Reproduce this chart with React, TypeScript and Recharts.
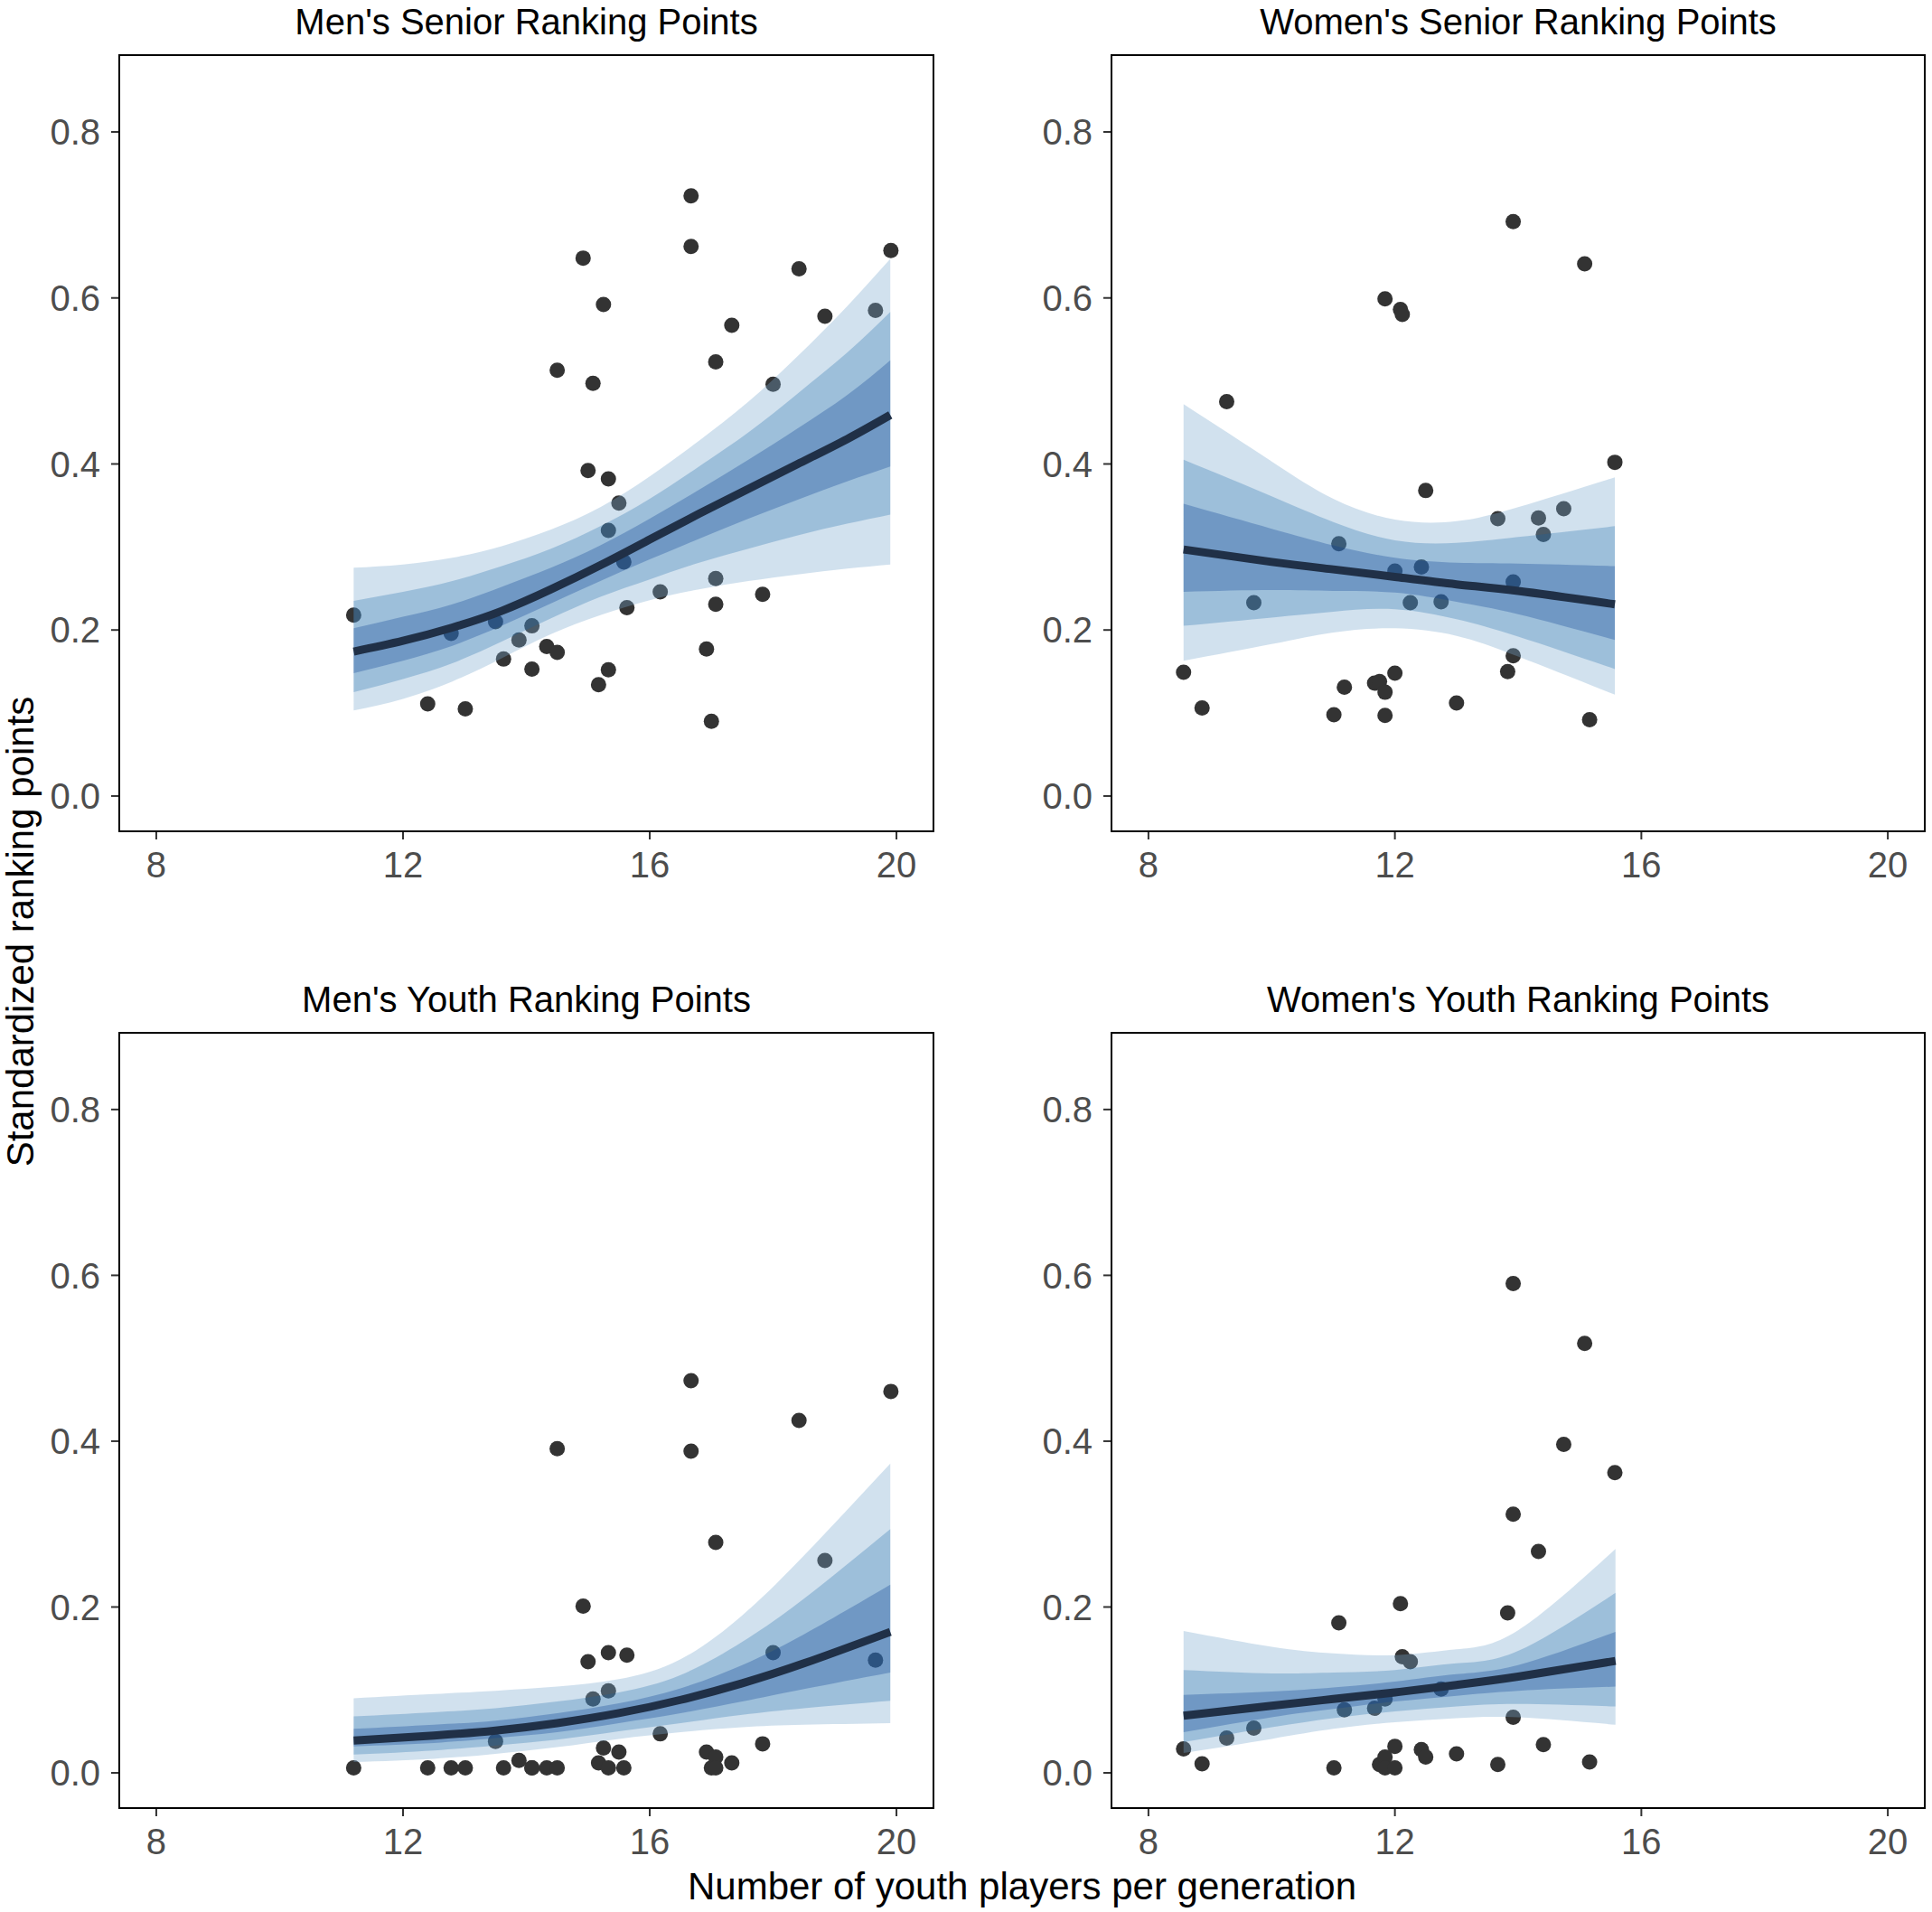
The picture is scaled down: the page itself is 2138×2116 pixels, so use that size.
import React from 'react';
import {
  ComposedChart, Area, Line, Scatter, XAxis, YAxis, ReferenceArea,
} from 'recharts';

// shared scales
const X_DOMAIN = [7.4, 20.6];
const Y_DOMAIN = [-0.0425, 0.8925];
const X_TICKS = [8, 12, 16, 20];
const Y_TICKS = [0, 0.2, 0.4, 0.6, 0.8];

// observed points, men (same countries in both men's panels)
const menX = [11.2, 12.4, 12.78, 13.01, 13.5, 13.63, 13.88, 14.09, 14.09, 14.33, 14.5, 14.5, 14.92, 15.0, 15.08, 15.17, 15.25, 15.33, 15.33, 15.33, 15.5, 15.58, 15.63, 16.17, 16.67, 16.67, 16.92, 17.0, 17.07, 17.07, 17.07, 17.33, 17.83, 18.0, 18.42, 18.84, 19.66, 19.91];
const menSeniorY = [0.218, 0.111, 0.196, 0.105, 0.21, 0.165, 0.188, 0.205, 0.153, 0.18, 0.513, 0.173, 0.648, 0.392, 0.497, 0.134, 0.592, 0.382, 0.32, 0.152, 0.353, 0.282, 0.227, 0.246, 0.723, 0.662, 0.177, 0.09, 0.523, 0.262, 0.231, 0.567, 0.243, 0.496, 0.635, 0.578, 0.585, 0.657];
const menYouthY = [0.006, 0.006, 0.006, 0.006, 0.038, 0.006, 0.015, 0.006, 0.006, 0.006, 0.391, 0.006, 0.201, 0.134, 0.089, 0.012, 0.03, 0.145, 0.099, 0.006, 0.025, 0.006, 0.142, 0.047, 0.473, 0.388, 0.025, 0.006, 0.278, 0.019, 0.006, 0.012, 0.035, 0.145, 0.425, 0.256, 0.136, 0.46];

// observed points, women
const womenX = [8.57, 8.87, 9.27, 9.71, 11.01, 11.09, 11.18, 11.67, 11.75, 11.84, 11.84, 11.84, 12.0, 12.0, 12.09, 12.12, 12.25, 12.43, 12.5, 12.75, 13.0, 13.67, 13.83, 13.92, 13.92, 13.92, 14.33, 14.41, 14.74, 15.08, 15.16, 15.57];
const womenSeniorY = [0.149, 0.106, 0.475, 0.233, 0.098, 0.304, 0.131, 0.136, 0.138, 0.125, 0.097, 0.599, 0.271, 0.148, 0.586, 0.58, 0.233, 0.276, 0.368, 0.234, 0.112, 0.334, 0.15, 0.258, 0.169, 0.692, 0.335, 0.315, 0.346, 0.641, 0.092, 0.402];
const womenYouthY = [0.029, 0.011, 0.042, 0.054, 0.006, 0.181, 0.076, 0.078, 0.01, 0.019, 0.006, 0.089, 0.032, 0.006, 0.204, 0.14, 0.134, 0.028, 0.019, 0.101, 0.023, 0.01, 0.193, 0.067, 0.312, 0.59, 0.267, 0.034, 0.396, 0.518, 0.013, 0.362];

// fitted curve + 50/80/95% intervals, men's senior
const msFitX = [11.2, 12.0, 12.8, 13.6, 14.4, 15.2, 16.0, 16.8, 17.6, 18.4, 19.2, 19.9];
const msMean = [0.174, 0.187, 0.203, 0.223, 0.249, 0.278, 0.309, 0.34, 0.37, 0.4, 0.43, 0.459];
const msLo95 = [0.103, 0.117, 0.138, 0.166, 0.195, 0.218, 0.236, 0.249, 0.259, 0.267, 0.274, 0.279];
const msHi95 = [0.275, 0.279, 0.287, 0.301, 0.321, 0.348, 0.385, 0.428, 0.475, 0.53, 0.59, 0.647];
const msLo80 = [0.125, 0.141, 0.16, 0.186, 0.214, 0.24, 0.261, 0.281, 0.298, 0.314, 0.328, 0.339];
const msHi80 = [0.235, 0.246, 0.259, 0.277, 0.298, 0.325, 0.358, 0.397, 0.438, 0.485, 0.534, 0.583];
const msLo50 = [0.148, 0.163, 0.181, 0.205, 0.232, 0.259, 0.285, 0.31, 0.334, 0.357, 0.379, 0.397];
const msHi50 = [0.202, 0.216, 0.231, 0.252, 0.275, 0.302, 0.334, 0.369, 0.405, 0.443, 0.483, 0.525];

// men's youth
const myFitX = [11.2, 12.5, 13.5, 14.5, 15.5, 16.5, 17.5, 18.5, 19.9];
const myMean = [0.039, 0.045, 0.051, 0.06, 0.072, 0.088, 0.108, 0.132, 0.17];
const myLo95 = [0.013, 0.017, 0.023, 0.031, 0.041, 0.049, 0.055, 0.058, 0.06];
const myHi95 = [0.09, 0.095, 0.099, 0.104, 0.113, 0.137, 0.19, 0.262, 0.373];
const myLo80 = [0.022, 0.027, 0.033, 0.04, 0.05, 0.06, 0.07, 0.078, 0.087];
const myHi80 = [0.068, 0.073, 0.078, 0.086, 0.097, 0.118, 0.158, 0.21, 0.294];
const myLo50 = [0.032, 0.036, 0.042, 0.049, 0.06, 0.072, 0.086, 0.101, 0.121];
const myHi50 = [0.053, 0.058, 0.063, 0.072, 0.084, 0.102, 0.13, 0.167, 0.227];

// women's senior
const wsFitX = [8.57, 10.0, 11.0, 12.0, 13.0, 14.0, 15.57];
const wsMean = [0.297, 0.282, 0.273, 0.264, 0.255, 0.247, 0.231];
const wsLo95 = [0.163, 0.183, 0.197, 0.202, 0.193, 0.168, 0.122];
const wsHi95 = [0.472, 0.403, 0.358, 0.333, 0.331, 0.348, 0.384];
const wsLo80 = [0.205, 0.215, 0.222, 0.225, 0.213, 0.192, 0.153];
const wsHi80 = [0.405, 0.361, 0.33, 0.308, 0.305, 0.312, 0.325];
const wsLo50 = [0.246, 0.248, 0.247, 0.245, 0.234, 0.219, 0.188];
const wsHi50 = [0.352, 0.322, 0.302, 0.287, 0.281, 0.28, 0.277];

// women's youth
const wyFitX = [8.57, 10.0, 11.0, 12.0, 13.0, 14.0, 15.58];
const wyMean = [0.069, 0.081, 0.089, 0.097, 0.106, 0.116, 0.135];
const wyLo95 = [0.024, 0.041, 0.053, 0.061, 0.066, 0.067, 0.058];
const wyHi95 = [0.171, 0.152, 0.144, 0.142, 0.149, 0.172, 0.27];
const wyLo80 = [0.037, 0.055, 0.066, 0.074, 0.08, 0.083, 0.08];
const wyHi80 = [0.124, 0.12, 0.121, 0.124, 0.132, 0.147, 0.217];
const wyLo50 = [0.049, 0.067, 0.077, 0.086, 0.093, 0.099, 0.104];
const wyHi50 = [0.094, 0.098, 0.103, 0.11, 0.119, 0.13, 0.17];

const FONT = '"Liberation Sans", Arial, Helvetica, sans-serif';
const PAD = 8;
const XH = 80;

function fitRows(xs: number[], mean: number[], lo95: number[], hi95: number[],
  lo80: number[], hi80: number[], lo50: number[], hi50: number[]) {
  return xs.map((x, i) => ({
    x,
    y: mean[i],
    mean: mean[i],
    b95: [lo95[i], hi95[i]],
    b80: [lo80[i], hi80[i]],
    b50: [lo50[i], hi50[i]],
  }));
}

function pointRows(xs: number[], ys: number[]) {
  return xs.map((x, i) => ({ x, y: ys[i] }));
}

const PointDot = (props: any) => (
  <circle cx={props.cx} cy={props.cy} r={8.5} fill="#333333" />
);

interface PanelProps {
  title: string;
  left: number; top: number; w: number; h: number;
  yw: number;
  fit: any[];
  points: { x: number; y: number }[];
}

function Panel({ title, left, top, w, h, yw, fit, points }: PanelProps) {
  const tick = { fill: '#4d4d4d', fontSize: 40, fontFamily: FONT };
  return (
    <>
      <div style={{ position: 'absolute', left: left - yw, top: top - PAD }}>
        <ComposedChart
          width={yw + w + PAD}
          height={PAD + h + XH}
          data={fit}
          margin={{ top: PAD, right: PAD, bottom: 0, left: 0 }}
        >
          <XAxis
            type="number" dataKey="x" domain={X_DOMAIN} ticks={X_TICKS}
            allowDataOverflow interval={0} height={XH}
            tickSize={9} tickMargin={14} axisLine={false}
            tickLine={{ stroke: '#333333', strokeWidth: 2 }} tick={tick}
          />
          <YAxis
            type="number" dataKey="y" domain={Y_DOMAIN} ticks={Y_TICKS}
            allowDataOverflow interval={0} width={yw}
            tickSize={9} tickMargin={12} axisLine={false}
            tickLine={{ stroke: '#333333', strokeWidth: 2 }} tick={tick}
            tickFormatter={(v: number) => v.toFixed(1)}
          />
          <Scatter data={points} dataKey="y" shape={PointDot} isAnimationActive={false} zIndex={50} />
          <Area type="natural" dataKey="b95" stroke="none" fill="rgb(120,167,205)" fillOpacity={0.34}
            dot={false} activeDot={false} isAnimationActive={false} zIndex={100} />
          <Area type="natural" dataKey="b80" stroke="none" fill="rgb(20,99,168)" fillOpacity={0.27}
            dot={false} activeDot={false} isAnimationActive={false} zIndex={101} />
          <Area type="natural" dataKey="b50" stroke="none" fill="rgb(13,65,148)" fillOpacity={0.31}
            dot={false} activeDot={false} isAnimationActive={false} zIndex={102} />
          <Line type="natural" dataKey="mean" stroke="#203047" strokeWidth={9} dot={false}
            activeDot={false} isAnimationActive={false} zIndex={400} />
          <ReferenceArea
            x1={X_DOMAIN[0]} x2={X_DOMAIN[1]} y1={Y_DOMAIN[0]} y2={Y_DOMAIN[1]}
            fill="none" stroke="#000000" strokeWidth={2} ifOverflow="visible" zIndex={700}
          />
        </ComposedChart>
      </div>
      <div
        style={{
          position: 'absolute', left, top: top - 61, width: w, textAlign: 'center',
          fontFamily: FONT, fontSize: 40, lineHeight: '40px', color: '#000',
          paddingTop: 4, whiteSpace: 'nowrap',
        }}
      >
        {title}
      </div>
    </>
  );
}

export default function App() {
  const msFit = fitRows(msFitX, msMean, msLo95, msHi95, msLo80, msHi80, msLo50, msHi50);
  const myFit = fitRows(myFitX, myMean, myLo95, myHi95, myLo80, myHi80, myLo50, myHi50);
  const wsFit = fitRows(wsFitX, wsMean, wsLo95, wsHi95, wsLo80, wsHi80, wsLo50, wsHi50);
  const wyFit = fitRows(wyFitX, wyMean, wyLo95, wyHi95, wyLo80, wyHi80, wyLo50, wyHi50);

  return (
    <div style={{
      position: 'absolute', left: 0, top: 0, width: 2138, height: 2116,
      background: '#ffffff', overflow: 'hidden', fontFamily: FONT,
    }}>
      <Panel title="Men's Senior Ranking Points" left={132} top={61} w={901} h={859} yw={132}
        fit={msFit} points={pointRows(menX, menSeniorY)} />
      <Panel title="Women's Senior Ranking Points" left={1230} top={61} w={900} h={859} yw={120}
        fit={wsFit} points={pointRows(womenX, womenSeniorY)} />
      <Panel title="Men's Youth Ranking Points" left={132} top={1143} w={901} h={858} yw={132}
        fit={myFit} points={pointRows(menX, menYouthY)} />
      <Panel title="Women's Youth Ranking Points" left={1230} top={1143} w={900} h={858} yw={120}
        fit={wyFit} points={pointRows(womenX, womenYouthY)} />
      <svg width={2138} height={2116} style={{ position: 'absolute', left: 0, top: 0, pointerEvents: 'none' }}>
        <text x={1131} y={2102} textAnchor="middle" fontSize={42} fontFamily={FONT} fill="#000">
          Number of youth players per generation
        </text>
        <text transform="translate(37,1031) rotate(-90)" textAnchor="middle" fontSize={42}
          fontFamily={FONT} fill="#000">
          Standardized ranking points
        </text>
      </svg>
    </div>
  );
}
